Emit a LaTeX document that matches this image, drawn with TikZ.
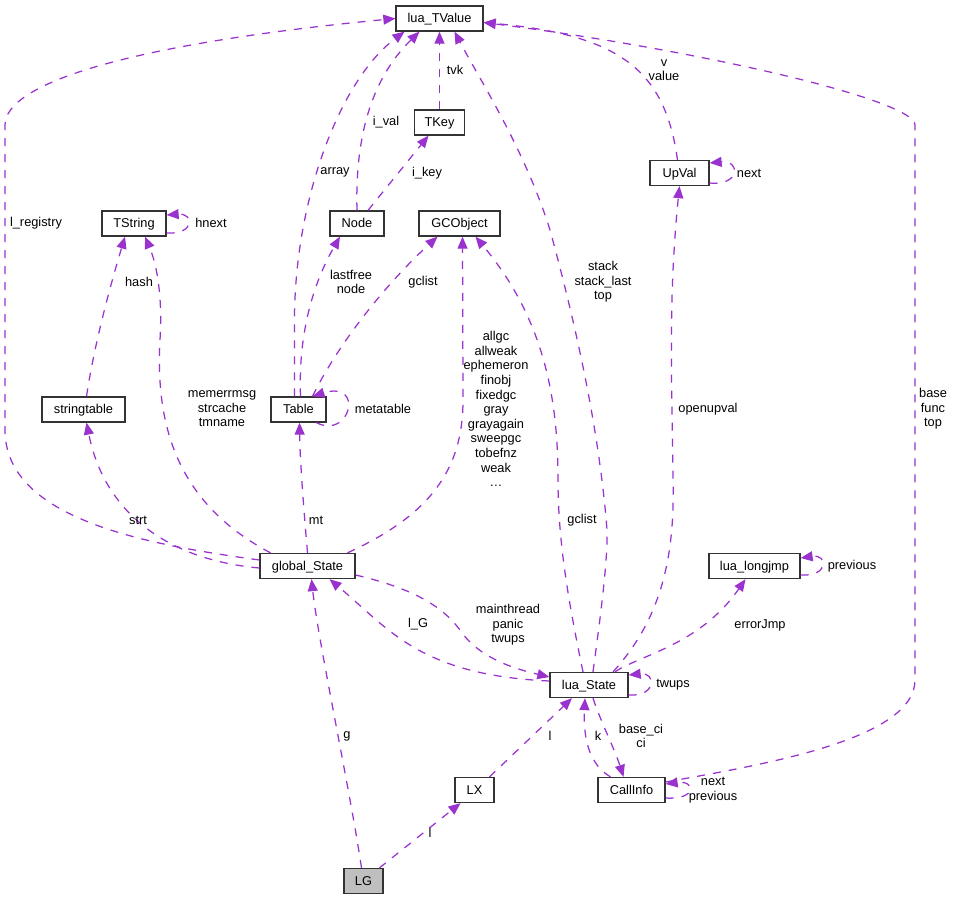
\documentclass[tikz,border=0pt]{standalone}
\usepackage{fontspec}
\setmainfont{Liberation Sans}
\usetikzlibrary{arrows.meta}
\definecolor{edgepurple}{RGB}{154,50,205}
\definecolor{boxgray}{RGB}{191,191,191}
\tikzstyle{rel} = [draw=edgepurple, line width=1.25pt, dash pattern=on 8pt off 8pt, ->]

\begin{document}
\begin{tikzpicture}[x=1pt, y=-1pt,
			>={Triangle[length=12pt,width=10pt]},   %Pfeilspitzen
			cls/.style={draw=black!80, line width=1.3pt, fill=white, minimum height=25pt, inner sep=0pt, text height=10pt, text depth=2pt},
			lbl/.style={inner sep=0pt, align=center},
			font=\fontsize{12.8}{14.6}\selectfont]
			\useasboundingbox (0,0) rectangle (953,900);
			% Klassen
			\node[cls, minimum width=87pt] (tvalue) at (439.5,18.5) {lua\_TValue};
			\node[cls, minimum width=50pt] (tkey) at (439.5,122.5) {TKey};
			\node[cls, minimum width=54pt] (nodeb) at (357,223.5) {Node};
			\node[cls, minimum width=81pt] (gcobj) at (459.5,223.5) {GCObject};
			\node[cls, minimum width=64pt] (tstring) at (134,223.5) {TString};
			\node[cls, minimum width=59pt] (upval) at (679.5,173) {UpVal};
			\node[cls, minimum width=83pt] (strtab) at (83.5,409.5) {stringtable};
			\node[cls, minimum width=55pt] (table) at (298.5,409.5) {Table};
			\node[cls, minimum width=95pt] (gstate) at (307.5,566) {global\_State};
			\node[cls, minimum width=91pt] (ljmp) at (754.5,566) {lua\_longjmp};
			\node[cls, minimum width=78pt] (lstate) at (589,685) {lua\_State};
			\node[cls, minimum width=39pt] (lx) at (474.5,790) {LX};
			\node[cls, minimum width=67pt] (cinfo) at (631.5,790) {CallInfo};
			\node[cls, minimum width=39pt, fill=boxgray] (lg) at (363.5,881) {LG};
			% Kanten zu lua_TValue
			\draw[rel] ([yshift=6pt]gstate.west) .. controls (150,545) and (5,520) .. (5,430) -- (5,125) .. controls (5,85) and (120,45) .. (tvalue.west);
			\draw[rel] ([xshift=-4pt]table.north) -- (294.5,320) .. controls (294.5,200) and (340,80) .. ([xshift=-35pt]tvalue.south);
			\draw[rel] (nodeb.north) .. controls (355,140) and (370,80) .. ([xshift=-20pt]tvalue.south);
			\draw[rel] (tkey.north) -- (tvalue.south);
			\draw[rel] ([xshift=4pt]lstate.north) .. controls (600,620) and (608,560) .. (607,530) .. controls (600,440) and (580,340) .. (550,230) .. controls (525,150) and (480,80) .. ([xshift=15pt]tvalue.south);
			\draw[rel] ([xshift=-2pt]upval.north) .. controls (665,70) and (620,35) .. ([yshift=-4pt]tvalue.east);
			\draw[rel] ([yshift=8pt]cinfo.east) .. controls (760,765) and (915,740) .. (915,680) -- (915,125) .. controls (915,100) and (700,50) .. ([yshift=-4pt]tvalue.east);
			% uebrige Kanten
			\draw[rel] ([xshift=11pt]nodeb.north) -- ([xshift=-11pt]tkey.south);
			\draw[rel] ([xshift=3pt]strtab.north) .. controls (95,340) and (112,280) .. ([xshift=-9pt]tstring.south);
			\draw[rel] ([yshift=-2pt]gstate.west) .. controls (170,560) and (105,515) .. ([xshift=3pt]strtab.south);
			\draw[rel] ([xshift=-37pt]gstate.north) .. controls (180,505) and (155,430) .. (160,340) .. controls (163,290) and (155,260) .. ([xshift=11pt]tstring.south);
			\draw[rel] (gstate.north) .. controls (303,500) and (300,460) .. ([xshift=1pt]table.south);
			\draw[rel] ([xshift=40pt]gstate.north) .. controls (430,515) and (463,470) .. (463,400) -- ([xshift=3pt]gcobj.south);
			\draw[rel] ([xshift=2pt]table.north) .. controls (298,330) and (315,280) .. ([xshift=-17pt]nodeb.south);
			\draw[rel] ([xshift=14pt]table.north) .. controls (340,340) and (390,280) .. ([xshift=-22pt]gcobj.south);
			\draw[rel] ([xshift=-6pt]lstate.north) .. controls (568,600) and (558,540) .. (558,480) .. controls (558,400) and (545,320) .. ([xshift=16pt]gcobj.south);
			\draw[rel] ([xshift=24pt]lstate.north) .. controls (660,620) and (675,560) .. (673,480) .. controls (672,380) and (668,300) .. (upval.south);
			\draw[rel] ([yshift=-9pt]gstate.east) .. controls (420,590) and (445,610) .. (460,630) .. controls (480,660) and (520,670) .. ([yshift=8pt]lstate.west);
			\draw[rel] ([yshift=4pt]lstate.west) .. controls (420,675) and (390,630) .. ([xshift=22pt]gstate.south);
			\draw[rel] ([xshift=26pt]lstate.north) .. controls (640,655) and (700,645) .. ([xshift=-9pt]ljmp.south);
			\draw[rel] ([xshift=4pt]lstate.south) .. controls (600,720) and (615,750) .. ([xshift=-8pt]cinfo.north);
			\draw[rel] ([xshift=-21pt]cinfo.north) .. controls (590,765) and (583,740) .. ([xshift=-4pt]lstate.south);
			\draw[rel] ([xshift=15pt]lx.north) -- ([xshift=-17pt]lstate.south);
			\draw[rel] ([xshift=16pt]lg.north) -- ([xshift=-14pt]lx.south);
			\draw[rel] ([xshift=-2pt]lg.north) .. controls (350,790) and (318,640) .. ([xshift=4pt]gstate.south);
			% Schleifen
			\draw[rel] ([yshift=-9.5pt]tstring.east) .. controls +(28,2) and +(28,-2) .. ([yshift=8.5pt]tstring.east);
			\draw[rel] ([xshift=18pt]table.south) .. controls (350,440) and (365,380) .. ([xshift=14pt]table.north);
			\draw[rel] ([yshift=-10pt]upval.east) .. controls +(31,3) and +(31,-3) .. ([yshift=10pt]upval.east);
			\draw[rel] ([yshift=-9pt]ljmp.east) .. controls +(28,2) and +(28,-4) .. ([yshift=8pt]ljmp.east);
			\draw[rel] ([yshift=-10pt]lstate.east) .. controls +(28,2) and +(28,-3) .. ([yshift=10pt]lstate.east);
			\draw[rel] ([yshift=-8pt]cinfo.east) .. controls +(32,2) and +(30,-4) .. ([yshift=6pt]cinfo.east);
			% Beschriftung
			\node[lbl] (lbregistry) at (36,223) {l\_registry};
			\node[lbl] (lbhnext) at (211,223) {hnext};
			\node[lbl] (lbhash) at (139,282) {hash};
			\node[lbl] (lbstrt) at (138,520) {strt};
			\node[lbl] (lbmem) at (222,409) {memerrmsg\\strcache\\tmname};
			\node[lbl] (lbmt) at (316,520) {mt};
			\node[lbl] (lbarray) at (335,172) {array};
			\node[lbl] (lbival) at (386,122) {i\_val};
			\node[lbl] (lbikey) at (427,173) {i\_key};
			\node[lbl] (lbtvk) at (455,70) {tvk};
			\node[lbl] (lblastfree) at (351,282) {lastfree\\node};
			\node[lbl] (lbgclist) at (423,282) {gclist};
			\node[lbl] (lbmeta) at (383,409) {metatable};
			\node[lbl] (lballgc) at (496,409) {allgc\\allweak\\ephemeron\\finobj\\fixedgc\\gray\\grayagain\\sweepgc\\tobefnz\\weak\\\ldots};
			\node[lbl] (lbstack) at (603,282) {stack\\stack\_last\\top};
			\node[lbl] (lbgclist2) at (582,520) {gclist};
			\node[lbl] (lbopen) at (708,409) {openupval};
			\node[lbl] (lbvalue) at (664,70) {v\\value};
			\node[lbl] (lbnext) at (749,173) {next};
			\node[lbl] (lbbase) at (933,409) {base\\func\\top};
			\node[lbl] (lbprev) at (852,566) {previous};
			\node[lbl] (lbljmp) at (760,625) {errorJmp};
			\node[lbl] (lbmain) at (508,625) {mainthread\\panic\\twups};
			\node[lbl] (lblg) at (418,624) {l\_G};
			\node[lbl] (lbtwups) at (673,685) {twups};
			\node[lbl] (lbbaseci) at (641,736) {base\_ci\\ci};
			\node[lbl] (lbk) at (598,736) {k};
			\node[lbl] (lbl) at (550,736) {l};
			\node[lbl] (lbnextprev) at (713,790) {next\\previous};
			\node[lbl] (lbg) at (347,736) {g};
			\node[lbl] (lbl2) at (430,833) {l};
		\end{tikzpicture}
\end{document}
